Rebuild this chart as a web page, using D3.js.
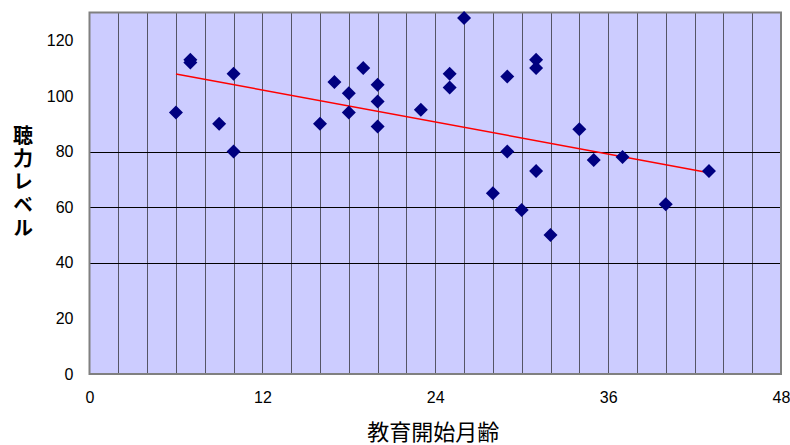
<!DOCTYPE html>
<html>
<head>
<meta charset="utf-8">
<script src="https://cdn.jsdelivr.net/npm/d3@7"></script>
<style>
  body { margin: 0; background: #fff; }
  svg { display: block; }
</style>
</head>
<body>
<div id="chart"></div>
<script>
// education start age (months) and hearing level
var months = [6, 7, 7, 9, 10, 10, 16, 17, 18, 18, 19, 20, 20, 20, 23, 25, 25, 26,
              28, 29, 29, 30, 31, 31, 31, 32, 34, 35, 37, 40, 43];
var levels = [94, 113, 112, 90, 108, 80, 90, 105, 101, 94, 110, 104, 98, 89, 95, 108, 103, 128,
              65, 107, 80, 59, 113, 110, 73, 50, 88, 77, 78, 61, 73];
// trend line ends
var trendX = [6, 43];
var trendY = [107.9, 72.4];
var xTicks = [0, 12, 24, 36, 48];
var yTicks = [0, 20, 40, 60, 80, 100, 120];
var hLines = [40, 60, 80];
var xTitle = "教育開始月齢";
var yTitle = "聴力レベル";

function init() {
    var w = 790, h = 445;
    var left = 89.5, right = 781, top = 12.5, bottom = 374;

    var svg = d3.select("#chart").append("svg")
        .attr("width", w)
        .attr("height", h);

    var x = d3.scaleLinear().domain([0, 48]).range([left, right]);
    var y = d3.scaleLinear().domain([0, 130]).range([bottom, top]);

    // plot background
    svg.append("rect")
        .attr("x", left).attr("y", top)
        .attr("width", right - left).attr("height", bottom - top)
        .attr("fill", "#ccccff");

    // vertical grid every 2 months
    svg.append("g").selectAll("line")
        .data(d3.range(2, 48, 2))
        .enter().append("line")
        .attr("x1", d => Math.round(x(d)) + 0.5).attr("x2", d => Math.round(x(d)) + 0.5)
        .attr("y1", top).attr("y2", bottom)
        .attr("stroke", "#555566").attr("stroke-width", 1);

    // horizontal lines
    svg.append("g").selectAll("line")
        .data(hLines)
        .enter().append("line")
        .attr("x1", left).attr("x2", right)
        .attr("y1", d => Math.round(y(d)) + 0.5).attr("y2", d => Math.round(y(d)) + 0.5)
        .attr("stroke", "#000").attr("stroke-width", 1);

    // border
    svg.append("rect")
        .attr("x", left).attr("y", top)
        .attr("width", right - left).attr("height", bottom - top)
        .attr("fill", "none")
        .attr("stroke", "#808080").attr("stroke-width", 2);

    // axes (labels only)
    var xAxis = d3.axisBottom(x).tickValues(xTicks).tickSize(0).tickPadding(18);
    var yAxis = d3.axisLeft(y).tickValues(yTicks).tickSize(0).tickPadding(16);

    svg.append("g")
        .attr("transform", `translate(0,${bottom})`)
        .call(xAxis)
        .call(g => g.select(".domain").remove())
        .selectAll("text")
        .attr("font-family", "Liberation Sans, Arial, sans-serif")
        .attr("font-size", "16px").attr("fill", "#000");

    svg.append("g")
        .attr("transform", `translate(${left},0)`)
        .call(yAxis)
        .call(g => g.select(".domain").remove())
        .selectAll("text")
        .attr("font-family", "Liberation Sans, Arial, sans-serif")
        .attr("font-size", "16px").attr("fill", "#000");

    // trend line
    svg.append("line")
        .attr("x1", x(trendX[0])).attr("y1", y(trendY[0]))
        .attr("x2", x(trendX[1])).attr("y2", y(trendY[1]))
        .attr("stroke", "#ff0000").attr("stroke-width", 1.5);

    // points
    var r = 7;
    svg.append("g").selectAll("path")
        .data(months.map((m, i) => [m, levels[i]]))
        .enter().append("path")
        .attr("d", d => {
            var cx = x(d[0]), cy = y(d[1]);
            return `M${cx},${cy - r}L${cx + r},${cy}L${cx},${cy + r}L${cx - r},${cy}Z`;
        })
        .attr("fill", "#000080");

    // titles
    svg.append("text")
        .attr("x", (left + right) / 2 - 2).attr("y", 440)
        .attr("text-anchor", "middle")
        .attr("font-family", "Noto Sans CJK JP, sans-serif")
        .attr("font-size", "22px")
        .text(xTitle);

    svg.append("text")
        .attr("x", 23).attr("y", 125)
        .style("writing-mode", "vertical-rl")
        .style("letter-spacing", "3px")
        .attr("font-family", "Noto Sans CJK JP, sans-serif")
        .attr("font-weight", "bold")
        .attr("font-size", "20px")
        .text(yTitle);
}

window.onload = init;
</script>
</body>
</html>
